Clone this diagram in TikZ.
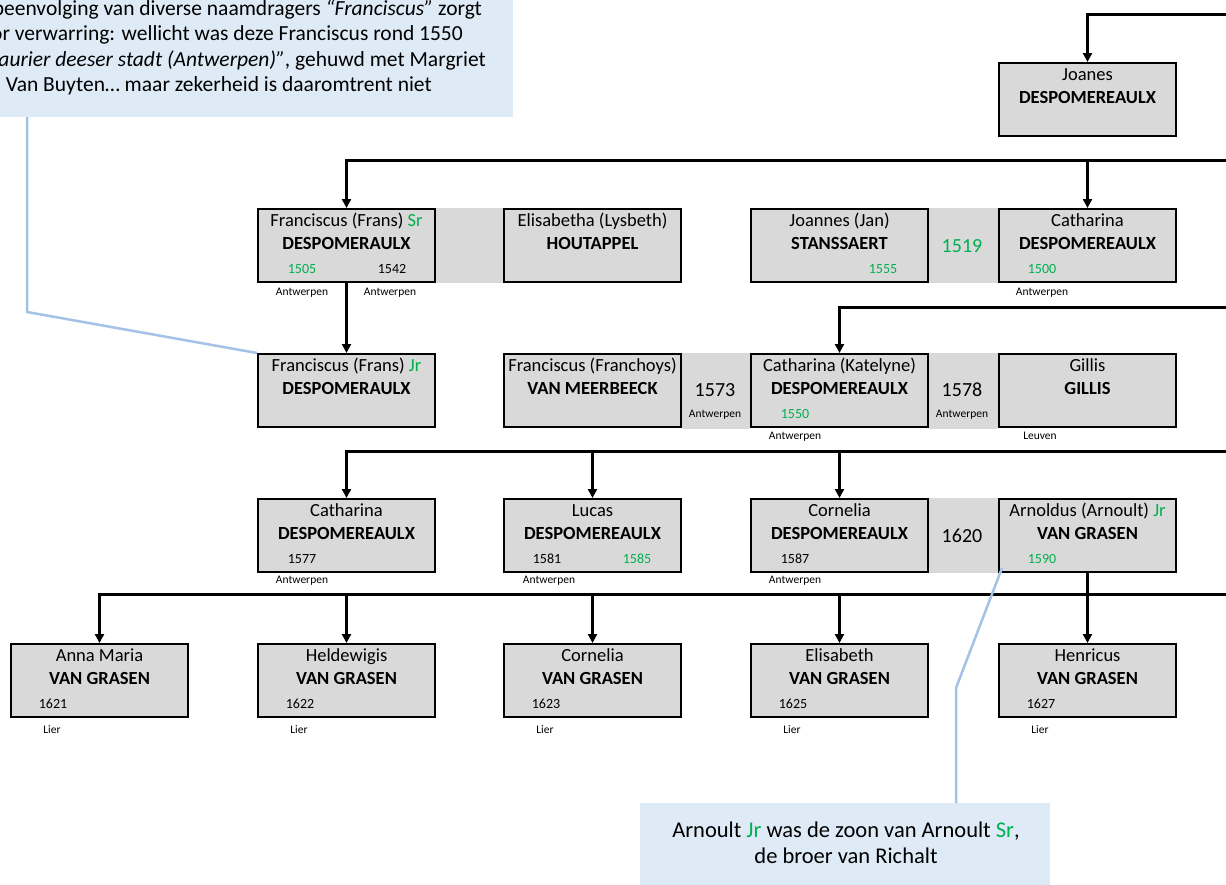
\documentclass[tikz,border=0pt]{standalone}
\usepackage{fontspec}
\setmainfont{Carlito}
\usetikzlibrary{arrows.meta,calc,backgrounds}
\definecolor{boxgray}{HTML}{D9D9D9}
\definecolor{grn}{HTML}{00B050}
\definecolor{callfill}{HTML}{DEEBF7}
\definecolor{callline}{HTML}{A4C2E6}
\tikzset{
 pbox/.style={draw=black, line width=2pt, fill=boxgray, minimum width=177pt, minimum height=73pt, inner sep=0pt, anchor=north west},
 fname/.style={font=\fontsize{18.5}{22}\selectfont, inner sep=0pt, text height=13pt, text depth=4pt},
 lname/.style={font=\fontsize{18.5}{22}\selectfont\bfseries, inner sep=0pt, text height=13pt, text depth=4pt},
 yr/.style={font=\fontsize{14}{16}\selectfont, inner sep=0pt, text height=10pt, text depth=1pt},
 place/.style={font=\fontsize{11.5}{13}\selectfont, inner sep=0pt, text height=8pt, text depth=2pt},
 gapyr/.style={font=\fontsize{20}{24}\selectfont, inner sep=0pt, text height=14pt, text depth=1pt},
 link/.style={line width=3pt, -{Triangle[length=9pt,width=9pt]}},
 callout/.style={fill=callfill, draw=none, inner sep=0pt},
 ctext/.style={font=\fontsize{21.5}{26}\selectfont, inner sep=0pt, text height=15pt, text depth=5pt},
 ctextb/.style={font=\fontsize{22.5}{27}\selectfont, inner sep=0pt, text height=15pt, text depth=5pt},
 cline/.style={draw=callline, line width=2.5pt},
}
\newcommand\person[5]{%
 \node[pbox] (#1) at (#2,#3) {};
 \node[fname] at ($(#1.north)+(0,14)$) {#4};
 \node[lname] at ($(#1.north)+(0,37)$) {#5};
}
\newcommand\yearin[4]{% box, xoffset, text, colour
 \node[yr, text=#4] at ($(#1.north west)+(#2,61)$) {#3};
}
\begin{document}
\begin{tikzpicture}[x=1pt,y=-1pt]
\useasboundingbox (0,0) rectangle (1226,884);
\clip (0,0) rectangle (1226,884);

% ---------- persons ----------
\person{jo}{998}{62}{Joanes}{DESPOMEREAULX}

\person{fsr}{257}{208}{Franciscus (Frans) \textcolor{grn}{Sr}}{DESPOMERAULX}
\person{eli}{503}{208}{Elisabetha (Lysbeth)}{HOUTAPPEL}
\person{jan}{750}{208}{Joannes (Jan)}{STANSSAERT}
\person{cat}{998}{208}{Catharina}{DESPOMEREAULX}

\person{fjr}{257}{353}{Franciscus (Frans) \textcolor{grn}{Jr}}{DESPOMERAULX}
\person{fra}{503}{353}{Franciscus (Franchoys)}{VAN MEERBEECK}
\person{kat}{750}{353}{Catharina (Katelyne)}{DESPOMEREAULX}
\person{gil}{998}{353}{Gillis}{GILLIS}

\person{caa}{257}{498}{Catharina}{DESPOMEREAULX}
\person{luc}{503}{498}{Lucas}{DESPOMEREAULX}
\person{cor}{750}{498}{Cornelia}{DESPOMEREAULX}
\person{arn}{998}{498}{Arnoldus (Arnoult) \textcolor{grn}{Jr}}{VAN GRASEN}

\person{ann}{10}{643}{Anna Maria}{VAN GRASEN}
\person{hel}{257}{643}{Heldewigis}{VAN GRASEN}
\person{cob}{503}{643}{Cornelia}{VAN GRASEN}
\person{elb}{750}{643}{Elisabeth}{VAN GRASEN}
\person{hen}{998}{643}{Henricus}{VAN GRASEN}

% ---------- marriage gaps ----------
\begin{scope}[on background layer]
\fill[boxgray] (fsr.north east) rectangle (eli.south west);
\fill[boxgray] (jan.north east) rectangle (cat.south west);
\fill[boxgray] (fra.north east) rectangle ($(kat.south west)+(0,1)$);
\fill[boxgray] (kat.north east) rectangle ($(gil.south west)+(0,1)$);
\fill[boxgray] (cor.north east) rectangle (arn.south west);
\end{scope}
\node[gapyr, text=grn] (g1) at (962,246) {1519};
\node[gapyr] (g2) at (715,390) {1573};
\node[place] at (715,414) {Antwerpen};
\node[gapyr] (g3) at (962,390) {1578};
\node[place] at (962,414) {Antwerpen};
\node[gapyr] (g4) at (962,536) {1620};

% ---------- years inside boxes ----------
\yearin{fsr}{45}{1505}{grn}
\yearin{fsr}{135}{1542}{black}
\yearin{jan}{133}{1555}{grn}
\yearin{cat}{44}{1500}{grn}
\yearin{kat}{45}{1550}{grn}
\yearin{caa}{45}{1577}{black}
\yearin{luc}{44}{1581}{black}
\yearin{luc}{134}{1585}{grn}
\yearin{cor}{45}{1587}{black}
\yearin{arn}{44}{1590}{grn}
\yearin{ann}{43}{1621}{black}
\yearin{hel}{43}{1622}{black}
\yearin{cob}{43}{1623}{black}
\yearin{elb}{43}{1625}{black}
\yearin{hen}{43}{1627}{black}

% ---------- places ----------
\node[place] at (302,292) {Antwerpen};
\node[place] at (390,292) {Antwerpen};
\node[place] at (1042,292) {Antwerpen};
\node[place] at (795,436) {Antwerpen};
\node[place] at (1040,436) {Leuven};
\node[place] at (302,580) {Antwerpen};
\node[place] at (549,580) {Antwerpen};
\node[place] at (795,580) {Antwerpen};
\foreach \b in {ann,hel,cob,elb,hen}{
  \node[place] at ($(\b.south west)+(42,12)$) {Lier};
}

% ---------- descent connectors ----------
\coordinate (t1) at (1226,14);
\draw[link] (t1) -| (jo.north);
\coordinate (t2) at (1226,160);
\draw[link] (t2) -| (fsr.north);
\draw[link] (cat.north |- t2) -- (cat.north);
\draw[link] (fsr.south) -- (fjr.north);
\coordinate (t3) at (1226,307);
\draw[link] (t3) -| (kat.north);
\coordinate (t4) at (1226,451);
\draw[link] (t4) -| (caa.north);
\draw[link] (luc.north |- t4) -- (luc.north);
\draw[link] (cor.north |- t4) -- (cor.north);
\coordinate (t5) at (1226,594);
\draw[link] (t5) -| (ann.north);
\draw[link] (hel.north |- t5) -- (hel.north);
\draw[link] (cob.north |- t5) -- (cob.north);
\draw[link] (elb.north |- t5) -- (elb.north);
\draw[link] (arn.south) -- (hen.north);

% ---------- callouts ----------
\node[callout, anchor=south east, minimum width=540pt, minimum height=140pt] (c1) at (513,117) {};
\node[ctext, anchor=east] at (482,10) {peenvolging van diverse naamdragers \textit{“Franciscus”} zorgt};
\node[ctext, anchor=east] at (463,35) {or verwarring: wellicht was deze Franciscus rond 1550};
\node[ctext, anchor=east] at (486,61) {\textit{saurier deeser stadt (Antwerpen)”}, gehuwd met Margriet};
\node[ctext, anchor=east] at (432,86) {Van Buyten… maar zekerheid is daaromtrent niet};
\coordinate (k1) at (27,312);
\draw[cline] (c1.south -| k1) -- (k1) -- (fjr.north west);

\node[callout, anchor=north west, minimum width=410pt, minimum height=90pt] (c2) at (640,803) {};
\node[ctextb] at (846,832) {Arnoult \textcolor{grn}{Jr} was de zoon van Arnoult \textcolor{grn}{Sr},};
\node[ctextb] at (846,858) {de broer van Richalt};
\coordinate (k2) at (956,688);
\coordinate (a2) at ($(arn.south west)+(4,-5)$);
\draw[cline] (c2.north -| k2) -- (k2) -- (a2);
\end{tikzpicture}
\end{document}
